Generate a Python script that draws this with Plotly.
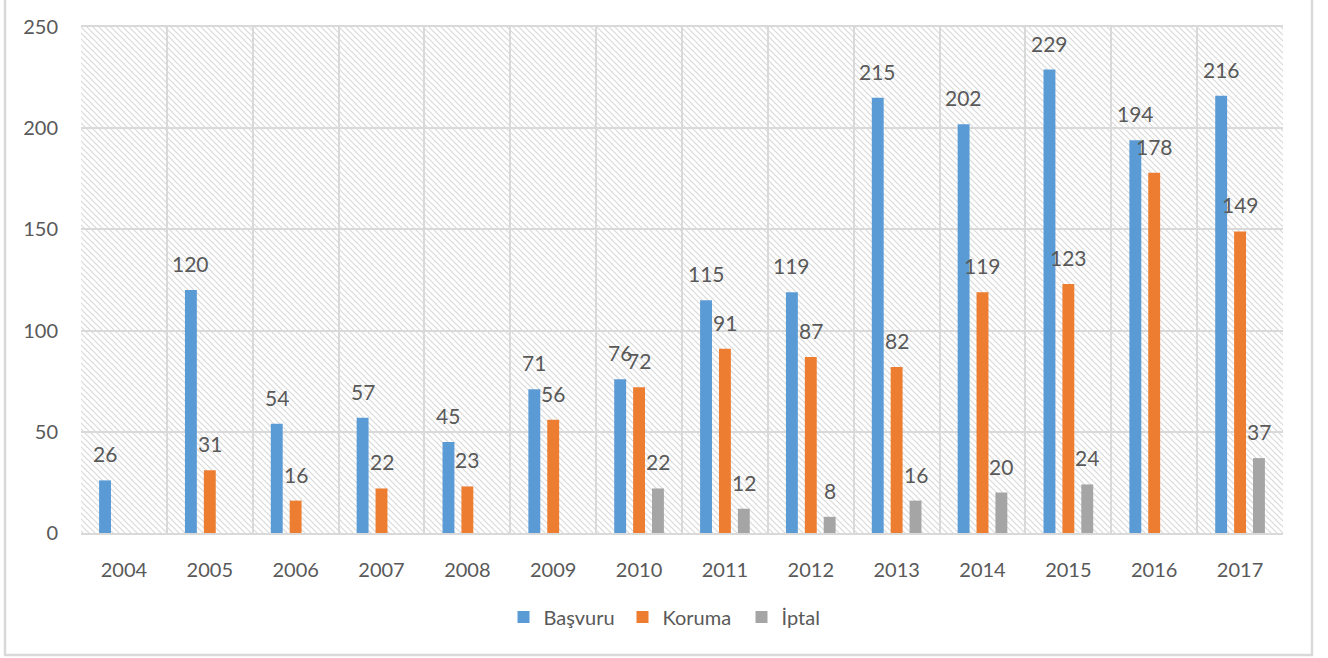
import base64
import plotly.graph_objects as go

years = ["2004", "2005", "2006", "2007", "2008", "2009", "2010",
         "2011", "2012", "2013", "2014", "2015", "2016", "2017"]
basvuru = [26, 120, 54, 57, 45, 71, 76, 115, 119, 215, 202, 229, 194, 216]
koruma = [None, 31, 16, 22, 23, 56, 72, 91, 87, 82, 119, 123, 178, 149]
iptal = [None, None, None, None, None, None, 22, 12, 8, 16, 20, 24, None, 37]

series = [("Başvuru", basvuru, "#5B9BD5"),
          ("Koruma", koruma, "#ED7D31"),
          ("İptal", iptal, "#A5A5A5")]

W, H = 1328, 658
ML, MR, MT, MB = 81, 45, 27, 125
PW, PH = W - ML - MR, H - MT - MB
FONT = "Lato"
TXT = "#595959"
GRID = "#d9d9d9"

fig = go.Figure()
for name, vals, col in series:
    fig.add_trace(go.Bar(name=name, x=years, y=vals, marker_color=col,
                         marker_line_width=0))

# data labels
slot = PW / len(years) * (1 - 0.34) / 3
for i, (name, vals, col) in enumerate(series):
    for j, v in enumerate(vals):
        if v is None:
            continue
        fig.add_annotation(x=j, y=v, text=str(v), showarrow=False,
                           xref="x", yref="y", xanchor="center", yanchor="bottom",
                           xshift=(i - 1) * slot, yshift=12,
                           font=dict(family=FONT, size=21, color=TXT))

# hatched plot-area background
svg = (f'<svg xmlns="http://www.w3.org/2000/svg" width="{PW}" height="{PH}">'
       '<defs><pattern id="h" width="6" height="6" patternUnits="userSpaceOnUse">'
       '<path d="M-1,-1 L7,7 M-7,-1 L1,7 M5,-1 L13,7" stroke="#d9d9d9" stroke-width="1.2"/>'
       '</pattern></defs>'
       f'<rect width="{PW}" height="{PH}" fill="white"/>'
       f'<rect width="{PW}" height="{PH}" fill="url(#h)"/></svg>')
src = "data:image/svg+xml;base64," + base64.b64encode(svg.encode()).decode()
fig.add_layout_image(source=src, xref="paper", yref="paper", x=0, y=1,
                     sizex=1, sizey=1, xanchor="left", yanchor="top",
                     sizing="stretch", layer="below")

# outer chart border
fig.add_shape(type="rect", xref="paper", yref="paper",
              x0=(5 - ML) / PW, x1=(1312 - ML) / PW,
              y0=-(655 - MT - PH) / PH, y1=1 + (MT + 8) / PH,
              line=dict(color=GRID, width=2.5), fillcolor="rgba(0,0,0,0)")

fig.update_layout(
    width=W, height=H,
    margin=dict(l=ML, r=MR, t=MT, b=MB),
    paper_bgcolor="white", plot_bgcolor="rgba(0,0,0,0)",
    barmode="group", bargap=0.34, bargroupgap=0.37,
    font=dict(family=FONT, size=20, color=TXT),
    showlegend=True,
    legend=dict(orientation="h", x=0.5, xanchor="center", y=-84 / PH,
                yanchor="middle", font=dict(family=FONT, size=20, color=TXT),
                bgcolor="rgba(0,0,0,0)", itemwidth=30, entrywidth=74),
    xaxis=dict(type="category", range=[-0.5, len(years) - 0.5],
               tickson="boundaries", showgrid=True, automargin=False,
               gridcolor=GRID, gridwidth=2, ticks="", ticklabelstandoff=18,
               tickangle=0,
               showline=True, linecolor=GRID, linewidth=2, mirror=True,
               tickfont=dict(family=FONT, size=20, color=TXT), fixedrange=True),
    yaxis=dict(range=[0, 250], tickvals=[0, 50, 100, 150, 200, 250],
               showgrid=True, gridcolor=GRID, gridwidth=2, zeroline=False,
               ticks="", ticklabelstandoff=22, showline=False, automargin=False,
               tickfont=dict(family=FONT, size=20, color=TXT), fixedrange=True),
)

fig.write_html("out.html", config={"displayModeBar": False},
               post_script="document.body.style.margin='0';"
                           "document.body.style.overflow='hidden';")
